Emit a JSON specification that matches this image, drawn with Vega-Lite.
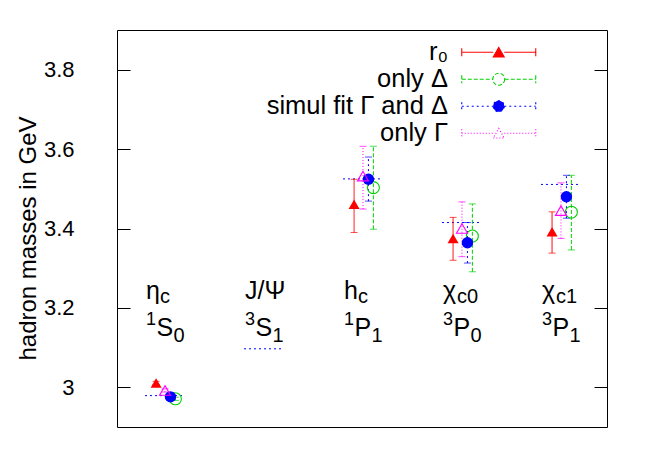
{
  "$schema": "https://vega.github.io/schema/vega-lite/v6.json",
  "width": 490,
  "height": 397,
  "autosize": {"type": "none"},
  "padding": {"left": 117, "top": 30, "right": 47, "bottom": 31},
  "background": "white",
  "config": {
    "font": "Liberation Sans",
    "view": {"stroke": "black", "strokeWidth": 1},
    "axis": {"grid": false}
  },
  "datasets": {
    "fits": [
      {"state": "ηc", "series": "r₀", "x": 0.91, "mass": 3.011, "lo": 3.007, "hi": 3.015},
      {"state": "ηc", "series": "only Δ", "x": 1.105, "mass": 2.971, "lo": 2.967, "hi": 2.975},
      {"state": "ηc", "series": "simul fit Γ and Δ", "x": 1.055, "mass": 2.976, "lo": 2.972, "hi": 2.98},
      {"state": "ηc", "series": "only Γ", "x": 1.0, "mass": 2.992, "lo": 2.988, "hi": 2.996},
      {"state": "hc", "series": "r₀", "x": 2.91, "mass": 3.461, "lo": 3.39, "hi": 3.524},
      {"state": "hc", "series": "only Δ", "x": 3.105, "mass": 3.503, "lo": 3.398, "hi": 3.607},
      {"state": "hc", "series": "simul fit Γ and Δ", "x": 3.055, "mass": 3.524, "lo": 3.469, "hi": 3.58},
      {"state": "hc", "series": "only Γ", "x": 3.0, "mass": 3.532, "lo": 3.449, "hi": 3.607},
      {"state": "χc0", "series": "r₀", "x": 3.91, "mass": 3.375, "lo": 3.32, "hi": 3.428},
      {"state": "χc0", "series": "only Δ", "x": 4.105, "mass": 3.381, "lo": 3.291, "hi": 3.462},
      {"state": "χc0", "series": "simul fit Γ and Δ", "x": 4.055, "mass": 3.364, "lo": 3.313, "hi": 3.415},
      {"state": "χc0", "series": "only Γ", "x": 4.0, "mass": 3.4, "lo": 3.329, "hi": 3.467},
      {"state": "χc1", "series": "r₀", "x": 4.91, "mass": 3.392, "lo": 3.338, "hi": 3.442},
      {"state": "χc1", "series": "only Δ", "x": 5.105, "mass": 3.441, "lo": 3.346, "hi": 3.534},
      {"state": "χc1", "series": "simul fit Γ and Δ", "x": 5.055, "mass": 3.48, "lo": 3.426, "hi": 3.534},
      {"state": "χc1", "series": "only Γ", "x": 5.0, "mass": 3.445, "lo": 3.375, "hi": 3.515}
    ],
    "states": [
      {"idx": 1, "name": "η", "nsub": "c", "sup": "1", "L": "S", "lsub": "0", "exp": 2.979},
      {"idx": 2, "name": "J/Ψ", "nsub": "", "sup": "3", "L": "S", "lsub": "1", "exp": 3.097},
      {"idx": 3, "name": "h", "nsub": "c", "sup": "1", "L": "P", "lsub": "1", "exp": 3.525},
      {"idx": 4, "name": "χ", "nsub": "c0", "sup": "3", "L": "P", "lsub": "0", "exp": 3.415},
      {"idx": 5, "name": "χ", "nsub": "c1", "sup": "3", "L": "P", "lsub": "1", "exp": 3.511}
    ]
  },
  "resolve": {"axis": {"y": "independent"}},
  "layer": [
    {
      "data": {"name": "states"},
      "mark": {"type": "rule", "color": "#0000ff", "strokeDash": [2, 3], "strokeWidth": 1, "xOffset": -20, "x2Offset": 20},
      "encoding": {
        "x": {"field": "idx", "type": "quantitative", "scale": {"domain": [0.515, 5.465], "nice": false, "zero": false}, "axis": null},
        "x2": {"field": "idx"},
        "y": {"field": "exp", "type": "quantitative", "scale": {"domain": [2.9, 3.9], "nice": false, "zero": false},
          "axis": {"orient": "right", "values": [3, 3.2, 3.4, 3.6, 3.8], "labels": false, "title": null, "domain": false, "tickSize": -13, "tickColor": "black", "tickWidth": 1}}
      }
    },
    {
      "data": {"name": "fits"},
      "mark": {"type": "rule", "strokeWidth": 1},
      "encoding": {
        "x": {"field": "x", "type": "quantitative", "scale": {"domain": [0.515, 5.465], "nice": false, "zero": false}, "axis": null},
        "y": {"field": "lo", "type": "quantitative", "scale": {"domain": [2.9, 3.9], "nice": false, "zero": false},
          "axis": {"orient": "left", "values": [3, 3.2, 3.4, 3.6, 3.8], "format": "~g", "domain": false, "tickSize": -13, "tickColor": "black", "tickWidth": 1,
            "labelFontSize": 22, "labelColor": "black", "labelPadding": 56,
            "title": "hadron masses in GeV", "titleFontSize": 24, "titleFontWeight": "normal", "titleColor": "black",
            "titleX": -82, "titleY": 208, "titleBaseline": "alphabetic", "titleAngle": 270}},
        "y2": {"field": "hi"},
        "color": {"field": "series", "type": "nominal", "scale": {"domain": ["only Γ", "only Δ", "r₀", "simul fit Γ and Δ"], "range": ["#ff00ff", "#00d000", "#ff0000", "#0000ff"]}, "legend": null},
        "strokeDash": {"field": "series", "type": "nominal", "scale": {"domain": ["only Γ", "only Δ", "r₀", "simul fit Γ and Δ"], "range": [[1, 2], [4, 2], [1, 0], [2, 3]]}, "legend": null}
      }
    },
    {
      "data": {"name": "fits"},
      "mark": {"type": "tick", "orient": "horizontal", "size": 7, "thickness": 1},
      "encoding": {
        "x": {"field": "x", "type": "quantitative", "scale": {"domain": [0.515, 5.465], "nice": false, "zero": false}, "axis": null},
        "y": {"field": "lo", "type": "quantitative", "scale": {"domain": [2.9, 3.9], "nice": false, "zero": false}, "axis": null},
        "color": {"field": "series", "type": "nominal", "legend": null}
      }
    },
    {
      "data": {"name": "fits"},
      "mark": {"type": "tick", "orient": "horizontal", "size": 7, "thickness": 1},
      "encoding": {
        "x": {"field": "x", "type": "quantitative", "scale": {"domain": [0.515, 5.465], "nice": false, "zero": false}, "axis": null},
        "y": {"field": "hi", "type": "quantitative", "scale": {"domain": [2.9, 3.9], "nice": false, "zero": false}, "axis": null},
        "color": {"field": "series", "type": "nominal", "legend": null}
      }
    },
    {
      "data": {"name": "fits"},
      "transform": [{"filter": "datum.series === 'r₀'"}],
      "mark": {"type": "point", "shape": "triangle-up", "filled": true, "size": 121, "opacity": 1},
      "encoding": {
        "x": {"field": "x", "type": "quantitative", "scale": {"domain": [0.515, 5.465], "nice": false, "zero": false}, "axis": null},
        "y": {"field": "mass", "type": "quantitative", "scale": {"domain": [2.9, 3.9], "nice": false, "zero": false}, "axis": null},
        "color": {"field": "series", "type": "nominal", "legend": null}
      }
    },
    {
      "data": {"name": "fits"},
      "transform": [{"filter": "datum.series === 'only Δ'"}],
      "mark": {"type": "point", "shape": "circle", "filled": false, "size": 144, "strokeWidth": 1.1, "opacity": 1},
      "encoding": {
        "x": {"field": "x", "type": "quantitative", "scale": {"domain": [0.515, 5.465], "nice": false, "zero": false}, "axis": null},
        "y": {"field": "mass", "type": "quantitative", "scale": {"domain": [2.9, 3.9], "nice": false, "zero": false}, "axis": null},
        "color": {"field": "series", "type": "nominal", "legend": null}
      }
    },
    {
      "data": {"name": "fits"},
      "transform": [{"filter": "datum.series === 'simul fit Γ and Δ'"}],
      "mark": {"type": "point", "shape": "circle", "filled": true, "size": 130, "opacity": 1},
      "encoding": {
        "x": {"field": "x", "type": "quantitative", "scale": {"domain": [0.515, 5.465], "nice": false, "zero": false}, "axis": null},
        "y": {"field": "mass", "type": "quantitative", "scale": {"domain": [2.9, 3.9], "nice": false, "zero": false}, "axis": null},
        "color": {"field": "series", "type": "nominal", "legend": null}
      }
    },
    {
      "data": {"name": "fits"},
      "transform": [{"filter": "datum.series === 'only Γ'"}],
      "mark": {"type": "point", "shape": "triangle-up", "filled": false, "size": 121, "strokeWidth": 1.1, "opacity": 1},
      "encoding": {
        "x": {"field": "x", "type": "quantitative", "scale": {"domain": [0.515, 5.465], "nice": false, "zero": false}, "axis": null},
        "y": {"field": "mass", "type": "quantitative", "scale": {"domain": [2.9, 3.9], "nice": false, "zero": false}, "axis": null},
        "color": {"field": "series", "type": "nominal", "legend": null}
      }
    },
    {
      "data": {"name": "states"},
      "mark": {"type": "text", "align": "left", "baseline": "alphabetic", "fontSize": 25, "dx": -19, "color": "black"},
      "encoding": {
        "x": {"field": "idx", "type": "quantitative", "scale": {"domain": [0.515, 5.465], "nice": false, "zero": false}, "axis": null},
        "y": {"datum": 3.223, "type": "quantitative", "scale": {"domain": [2.9, 3.9], "nice": false, "zero": false}, "axis": null},
        "text": {"field": "name"}
      }
    },
    {
      "data": {"name": "states"},
      "mark": {"type": "text", "align": "left", "baseline": "alphabetic", "fontSize": 20, "dx": -5, "dy": 4, "color": "black"},
      "encoding": {
        "x": {"field": "idx", "type": "quantitative", "scale": {"domain": [0.515, 5.465], "nice": false, "zero": false}, "axis": null},
        "y": {"datum": 3.223, "type": "quantitative", "scale": {"domain": [2.9, 3.9], "nice": false, "zero": false}, "axis": null},
        "text": {"field": "nsub"}
      }
    },
    {
      "data": {"name": "states"},
      "mark": {"type": "text", "align": "left", "baseline": "alphabetic", "fontSize": 18, "dx": -19, "dy": -11, "color": "black"},
      "encoding": {
        "x": {"field": "idx", "type": "quantitative", "scale": {"domain": [0.515, 5.465], "nice": false, "zero": false}, "axis": null},
        "y": {"datum": 3.128, "type": "quantitative", "scale": {"domain": [2.9, 3.9], "nice": false, "zero": false}, "axis": null},
        "text": {"field": "sup"}
      }
    },
    {
      "data": {"name": "states"},
      "mark": {"type": "text", "align": "left", "baseline": "alphabetic", "fontSize": 25, "dx": -8.5, "color": "black"},
      "encoding": {
        "x": {"field": "idx", "type": "quantitative", "scale": {"domain": [0.515, 5.465], "nice": false, "zero": false}, "axis": null},
        "y": {"datum": 3.128, "type": "quantitative", "scale": {"domain": [2.9, 3.9], "nice": false, "zero": false}, "axis": null},
        "text": {"field": "L"}
      }
    },
    {
      "data": {"name": "states"},
      "mark": {"type": "text", "align": "left", "baseline": "alphabetic", "fontSize": 20, "dx": 8.5, "dy": 6, "color": "black"},
      "encoding": {
        "x": {"field": "idx", "type": "quantitative", "scale": {"domain": [0.515, 5.465], "nice": false, "zero": false}, "axis": null},
        "y": {"datum": 3.128, "type": "quantitative", "scale": {"domain": [2.9, 3.9], "nice": false, "zero": false}, "axis": null},
        "text": {"field": "lsub"}
      }
    },
    {
      "data": {"name": "fits"},
      "transform": [{"filter": "datum.series === 'none'"}],
      "mark": {"type": "point", "opacity": 1},
      "encoding": {
        "x": {"field": "x", "type": "quantitative", "scale": {"domain": [0.515, 5.465], "nice": false, "zero": false}, "axis": null},
        "y": {"field": "mass", "type": "quantitative", "scale": {"domain": [2.9, 3.9], "nice": false, "zero": false}, "axis": null},
        "shape": {"field": "series", "type": "nominal",
          "scale": {"domain": ["r₀", "only Δ", "simul fit Γ and Δ", "only Γ"],
            "range": [
              "M-3.15,0H-0.47M0.47,0H3.15M-3.15,-0.34V0.34M3.15,-0.34V0.34M0,-0.41L0.47,0.41L-0.47,0.41Z",
              "M-3.15,0H-0.51M0.51,0H3.15M-3.15,-0.34V0.34M3.15,-0.34V0.34M0.51,0A0.51,0.51 0 1,1 -0.51,0A0.51,0.51 0 1,1 0.51,0Z",
              "M-3.15,0H-0.47M0.47,0H3.15M-3.15,-0.34V0.34M3.15,-0.34V0.34M0.47,0A0.47,0.47 0 1,1 -0.47,0A0.47,0.47 0 1,1 0.47,0Z",
              "M-3.15,0H-0.47M0.47,0H3.15M-3.15,-0.34V0.34M3.15,-0.34V0.34M0,-0.41L0.47,0.41L-0.47,0.41Z"
            ]},
          "legend": {"title": null, "orient": "none", "legendX": 369, "legendY": 9.5, "padding": 0, "symbolSize": 552, "symbolStrokeWidth": 1.1,
            "symbolDash": {"expr": "datum.value === 'only Δ' ? [4, 2] : datum.value === 'only Γ' ? [1, 2] : datum.value === 'r₀' ? [1, 0] : [2, 3]"},
            "labelAlign": "right", "labelOffset": -63.5, "labelFontSize": 25.5, "labelColor": "black", "labelLimit": 400, "rowPadding": -2}},
        "stroke": {"field": "series", "type": "nominal",
          "scale": {"domain": ["r₀", "only Δ", "simul fit Γ and Δ", "only Γ"], "range": ["#ff0000", "#00d000", "#0000ff", "#ff00ff"]}},
        "fill": {"field": "series", "type": "nominal",
          "scale": {"domain": ["r₀", "only Δ", "simul fit Γ and Δ", "only Γ"], "range": ["#ff0000", "transparent", "#0000ff", "transparent"]}}
      }
    }
  ]
}
